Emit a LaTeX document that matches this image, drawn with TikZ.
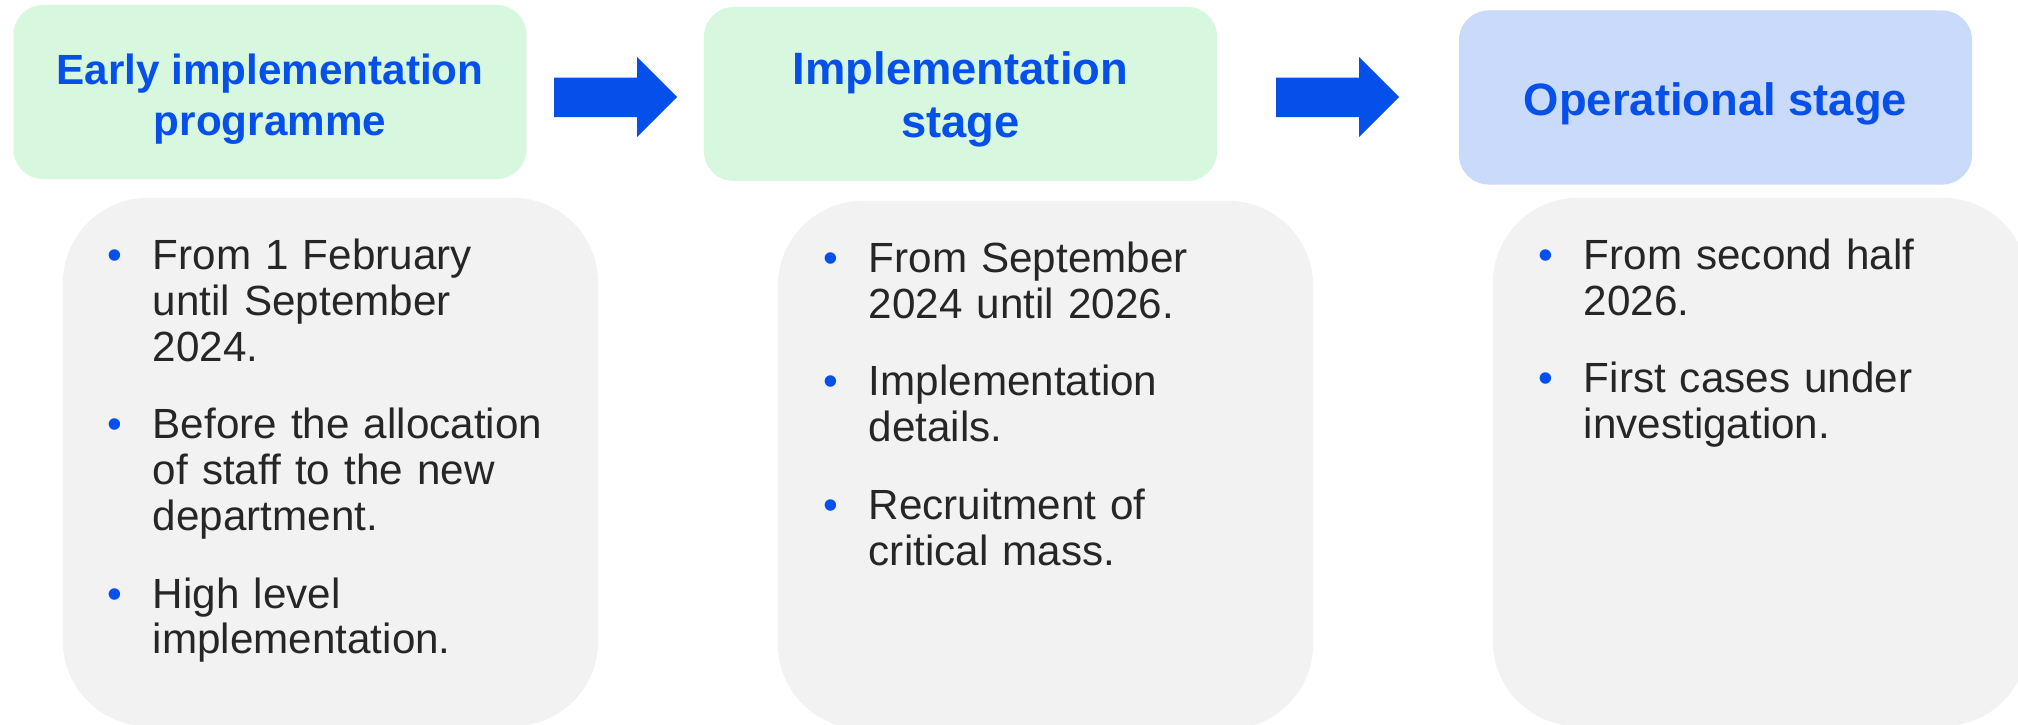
\documentclass[tikz,border=0pt]{standalone}
\usepackage{fontspec}
\setmainfont{Liberation Sans}
\usetikzlibrary{calc}

\definecolor{stageblue}{HTML}{0550EB}
\definecolor{greenfill}{HTML}{D7F7DF}
\definecolor{bluefill}{HTML}{C9DAFB}
\definecolor{greyfill}{HTML}{F2F2F2}
\definecolor{bodygrey}{HTML}{262626}

\newcommand{\stageitem}[1]{\noindent\llap{\makebox[12.8pt][l]{\textcolor{stageblue}{•}}}#1\par}

\tikzset{
  headbox/.style={rectangle, rounded corners=0.3cm, minimum width=5.13cm,
    minimum height=1.74cm, inner sep=0pt},
  headtext/.style={text=stageblue, align=center, inner sep=0pt,
    font=\fontsize{12pt}{14.5pt}\selectfont\bfseries},
  bigheadtext/.style={headtext, font=\fontsize{12.9pt}{15.2pt}\selectfont\bfseries},
  bodybox/.style={rectangle, rounded corners=0.85cm, fill=greyfill,
    minimum width=5.35cm, minimum height=5.28cm, inner sep=0pt},
  bodytext/.style={anchor=north west, inner sep=0pt, text width=4.3cm,
    align=left, text=bodygrey, font=\fontsize{12pt}{13.05pt}\selectfont},
  stagearrow/.style={fill=stageblue}
}

\begin{document}
\begin{tikzpicture}[x=0.01cm, y=-0.01cm]
  \useasboundingbox (0,0) rectangle (2018,724);

  % stage headers
  \node[headbox, fill=greenfill] (hdA) at (270,92) {};
  \node[headbox, fill=greenfill] (hdB) at (960.5,94) {};
  \node[headbox, fill=bluefill] (hdC) at (1715.5,97.5) {};
  \node[headtext] (hdAtext) at ([yshift=-2pt]hdA.center) {Early implementation\\programme};
  \node[bigheadtext] (hdBtext) at ([yshift=-1.5pt]hdB.center) {Implementation\\stage};
  \node[bigheadtext] (hdCtext) at ([yshift=-1.8pt]hdC.center) {Operational stage};

  % arrows between headers
  \foreach \ax in {554,1276}
    \fill[stagearrow] (\ax,97) ++(0,-19.5) -- ++(83,0) -- ++(0,-20.5)
      -- ++(40,40) -- ++(-40,40) -- ++(0,-20) -- ++(-83,0) -- cycle;

  % stage details
  \node[bodybox] (bdA) at (330.5,462) {};
  \node[bodybox] (bdB) at (1045.5,465) {};
  \node[bodybox] (bdC) at (1760.5,462) {};

  \node[bodytext] (bdAtext) at ($(bdA.north west)+(90,41)$) {\setlength{\parskip}{9pt}%
    \stageitem{From 1 February\\until September\\2024.}
    \stageitem{Before the allocation\\of staff to the new\\department.}
    \stageitem{High level\\implementation.}};
  \node[bodytext] (bdBtext) at ($(bdB.north west)+(91,41)$) {\setlength{\parskip}{9pt}%
    \stageitem{From September\\2024 until 2026.}
    \stageitem{Implementation\\details.}
    \stageitem{Recruitment of\\critical mass.}};
  \node[bodytext] (bdCtext) at ($(bdC.north west)+(91,41)$) {\setlength{\parskip}{9pt}%
    \stageitem{From second half\\2026.}
    \stageitem{First cases under\\investigation.}};
\end{tikzpicture}
\end{document}
